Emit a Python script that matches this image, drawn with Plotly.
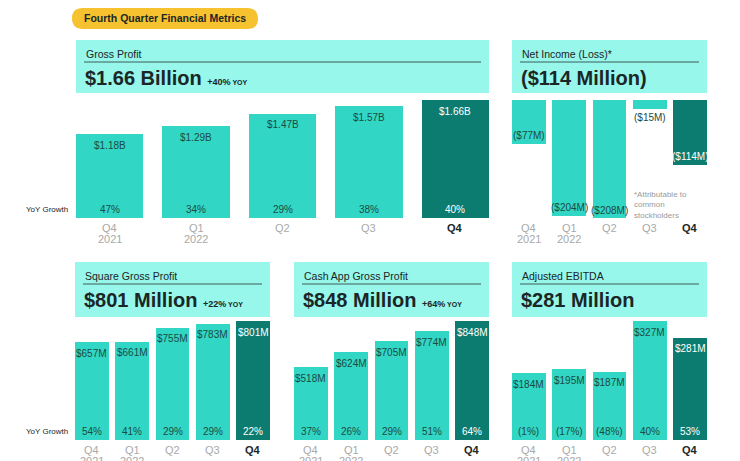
import plotly.graph_objects as go

W, H = 740, 461
OFF = 8  # page body margin; figure is drawn 8px in from the window corner
FW, FH = W - OFF, H - OFF

# data
quarters = ["Q4", "Q1", "Q2", "Q3", "Q4"]
years = ["2021", "2022", "", "", ""]

gross_profit = [1.18, 1.29, 1.47, 1.57, 1.66]      # $B
gross_profit_yoy = [47, 34, 29, 38, 40]
net_income = [-77, -204, -208, -15, -114]         # $M
square_gp = [657, 661, 755, 783, 801]             # $M
square_gp_yoy = [54, 41, 29, 29, 22]
cash_app_gp = [518, 624, 705, 774, 848]           # $M
cash_app_gp_yoy = [37, 26, 29, 51, 64]
adj_ebitda = [184, 195, 187, 327, 281]            # $M
adj_ebitda_yoy = [-1, -17, -48, 40, 53]

HEADER = "#96F7EA"
BAR = "#31D7C4"
BAR_NOW = "#0C7C70"
INK = "#1B2626"
BAR_INK = "#1D4A45"
GREY = "#A9A9A9"
PILL = "#F6C22F"
FONT = "Liberation Sans"


# window pixels -> paper fractions
def fx(p):
    return (p - OFF) / FW


def fy(p):
    return 1 - (p - OFF) / FH


def pct(v):
    return f"{v}%" if v >= 0 else f"({-v}%)"


def money_m(v):
    return f"${v}M" if v >= 0 else f"(${-v}M)"


def big_m(v):
    return f"${v} Million" if v >= 0 else f"(${-v} Million)"


panels = [
    dict(label="Gross Profit", values=gross_profit, yoy=gross_profit_yoy,
         text=[f"${v:.2f}B" for v in gross_profit],
         headline=f"${gross_profit[-1]:.2f} Billion",
         x0=76, x1=489, head=(40, 93), top=100, base=218, w=0.775, ylab=True),
    dict(label="Net Income (Loss)*", values=net_income, yoy=None,
         text=[money_m(v) for v in net_income],
         headline=big_m(net_income[-1]),
         x0=512, x1=707, head=(40, 93), top=100, base=218, w=0.84, ylab=False),
    dict(label="Square Gross Profit", values=square_gp, yoy=square_gp_yoy,
         text=[money_m(v) for v in square_gp],
         headline=big_m(square_gp[-1]),
         x0=75, x1=270, head=(262, 317), top=321, base=440, w=0.84, ylab=True),
    dict(label="Cash App Gross Profit", values=cash_app_gp, yoy=cash_app_gp_yoy,
         text=[money_m(v) for v in cash_app_gp],
         headline=big_m(cash_app_gp[-1]),
         x0=294, x1=489, head=(262, 317), top=321, base=440, w=0.84, ylab=False),
    dict(label="Adjusted EBITDA", values=adj_ebitda, yoy=adj_ebitda_yoy,
         text=[money_m(v) for v in adj_ebitda],
         headline=big_m(adj_ebitda[-1]),
         x0=512, x1=707, head=(262, 317), top=321, base=440, w=0.84, ylab=False,
         no_yoy_head=True),
]

fig = go.Figure()
shapes = []
annotations = []
layout_axes = {}

# title pill
r = 11
x0, x1, y0, y1 = 72, 258, 8, 29
path = (f"M {fx(x0 + r)} {fy(y0)} L {fx(x1 - r)} {fy(y0)} "
        f"Q {fx(x1)} {fy(y0)} {fx(x1)} {fy(y0 + r)} "
        f"Q {fx(x1)} {fy(y1)} {fx(x1 - r)} {fy(y1)} "
        f"L {fx(x0 + r)} {fy(y1)} "
        f"Q {fx(x0)} {fy(y1)} {fx(x0)} {fy(y1 - r)} "
        f"Q {fx(x0)} {fy(y0)} {fx(x0 + r)} {fy(y0)} Z")
shapes.append(dict(type="path", xref="paper", yref="paper", path=path,
                   fillcolor=PILL, line=dict(width=0), layer="below"))
annotations.append(dict(x=fx((x0 + x1) / 2), y=fy(18), xref="paper", yref="paper",
                        xanchor="center", yanchor="middle",
                        text="<b>Fourth Quarter Financial Metrics</b>", showarrow=False,
                        font=dict(family=FONT, size=10.5, color=INK)))

for i, p in enumerate(panels, start=1):
    xa = "x" if i == 1 else f"x{i}"
    ya = "y" if i == 1 else f"y{i}"
    vals = p["values"]
    neg = min(vals) < 0
    half = p["w"] / 2
    layout_axes["xaxis" if i == 1 else f"xaxis{i}"] = dict(
        domain=[fx(p["x0"]), fx(p["x1"])], range=[-half, len(vals) - 1 + half],
        visible=False, fixedrange=True, anchor=ya)
    layout_axes["yaxis" if i == 1 else f"yaxis{i}"] = dict(
        domain=[fy(p["base"]), fy(p["top"])],
        range=[min(vals), 0] if neg else [0, max(vals)],
        visible=False, fixedrange=True, anchor=xa)

    colors = [BAR] * (len(vals) - 1) + [BAR_NOW]
    fig.add_trace(go.Bar(x=list(range(len(vals))), y=vals, width=p["w"],
                         marker=dict(color=colors, line=dict(width=0)),
                         xaxis=xa, yaxis=ya, showlegend=False, hoverinfo="skip"))

    # header box
    h0, h1 = p["head"]
    shapes.append(dict(type="rect", xref="paper", yref="paper",
                       x0=fx(p["x0"]), x1=fx(p["x1"]), y0=fy(h1), y1=fy(h0),
                       fillcolor=HEADER, line=dict(width=0), layer="below"))
    shapes.append(dict(type="line", xref="paper", yref="paper",
                       x0=fx(p["x0"] + 8), x1=fx(p["x1"] - 8),
                       y0=fy(h0 + 22), y1=fy(h0 + 22),
                       line=dict(color="#3C5C58", width=1)))
    annotations.append(dict(x=fx(p["x0"] + 8), y=fy(h0 + 14), xref="paper", yref="paper",
                            xanchor="left", yanchor="middle", text=p["label"],
                            showarrow=False, font=dict(family=FONT, size=10.5, color=INK)))
    head = f"<b>{p['headline']}</b>"
    if p["yoy"] is not None and not p.get("no_yoy_head"):
        head += (f" <span style='font-size:9px'><b>+{p['yoy'][-1]}%</b></span>"
                 f"<span style='font-size:7px'><b> YOY</b></span>")
    annotations.append(dict(x=fx(p["x0"] + 7), y=fy(h0 + 38), xref="paper", yref="paper",
                            xanchor="left", yanchor="middle", text=head,
                            showarrow=False, font=dict(family=FONT, size=20, color=INK)))

    for j, v in enumerate(vals):
        now = j == len(vals) - 1
        ink = "white" if now else BAR_INK
        # value label
        if neg:
            outside = abs(v) < 0.15 * abs(min(vals))
            annotations.append(dict(x=j, y=v, xref=xa, yref=ya, text=p["text"][j],
                                    showarrow=False, yshift=-9 if outside else 8,
                                    font=dict(family=FONT, size=10,
                                              color=BAR_INK if outside else ink)))
        else:
            annotations.append(dict(x=j, y=v, xref=xa, yref=ya, text=p["text"][j],
                                    showarrow=False, yshift=-11,
                                    font=dict(family=FONT, size=10, color=ink)))
        # growth label
        if p["yoy"] is not None:
            annotations.append(dict(x=j, y=0, xref=xa, yref=ya, text=pct(p["yoy"][j]),
                                    showarrow=False, yshift=9,
                                    font=dict(family=FONT, size=10, color=ink)))
        # quarter labels
        annotations.append(dict(x=j, y=fy(p["base"] + 10), xref=xa, yref="paper",
                                text=f"<b>{quarters[j]}</b>" if now else quarters[j],
                                showarrow=False, xanchor="center", yanchor="middle",
                                font=dict(family=FONT, size=11, color=INK if now else GREY)))
        if years[j]:
            annotations.append(dict(x=j, y=fy(p["base"] + 21), xref=xa, yref="paper",
                                    text=years[j], showarrow=False,
                                    xanchor="center", yanchor="middle",
                                    font=dict(family=FONT, size=11, color=GREY)))

    if p["ylab"]:
        annotations.append(dict(x=fx(70), y=fy(p["base"] - 9), xref="paper", yref="paper",
                                xanchor="right", yanchor="middle", text="YoY Growth",
                                showarrow=False, font=dict(family=FONT, size=8, color=INK)))

# footnote
annotations.append(dict(x=fx(632), y=fy(188), xref="paper", yref="paper",
                        xanchor="left", yanchor="top", align="left",
                        text="*Attributable to<br>common<br>stockholders",
                        showarrow=False, font=dict(family=FONT, size=8, color="#9A9A9A")))

fig.update_layout(width=FW, height=FH, autosize=False,
                  margin=dict(l=0, r=0, t=0, b=0),
                  paper_bgcolor="white", plot_bgcolor="rgba(0,0,0,0)",
                  bargap=0, shapes=shapes, annotations=annotations,
                  **layout_axes)

fig.write_html("out.html")
